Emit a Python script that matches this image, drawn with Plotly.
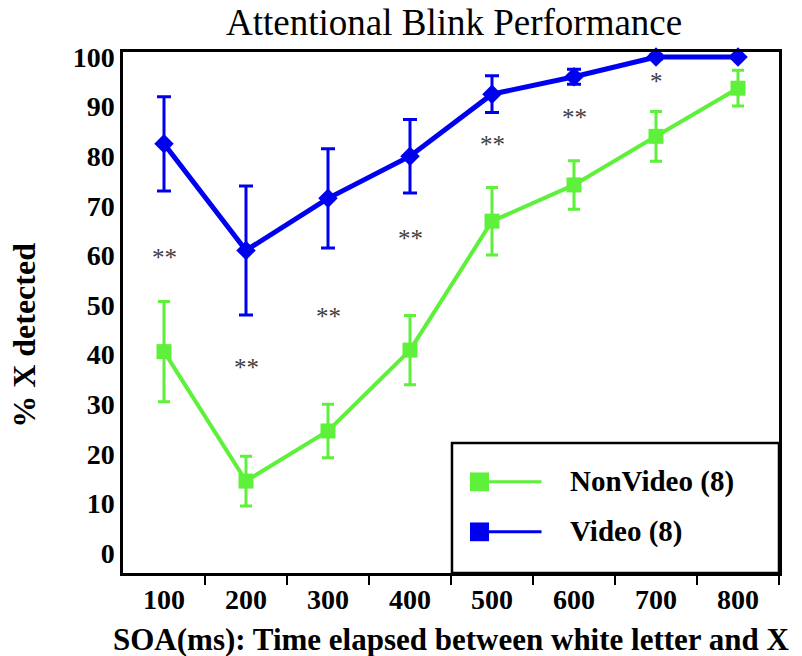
import plotly.graph_objects as go

# ---- data ----
soa = [100, 200, 300, 400, 500, 600, 700, 800]
nonvideo = [40.6, 14.5, 24.6, 40.9, 66.9, 74.2, 84.0, 93.7]
nonvideo_err = [10.1, 5.0, 5.4, 7.0, 6.8, 4.9, 5.0, 3.6]
video = [82.5, 61.0, 71.5, 80.0, 92.5, 96.0, 100.0, 100.0]
video_err = [9.5, 13.0, 10.0, 7.4, 3.7, 1.5, 0.4, 0.0]
sig_x = [100, 200, 300, 400, 500, 600, 700]
sig_y = [59.5, 37.4, 47.6, 63.4, 82.3, 87.8, 95.0]
sig_text = ["**", "**", "**", "**", "**", "**", "*"]
x_ticks = [100, 200, 300, 400, 500, 600, 700, 800]
x_minor = [150, 250, 350, 450, 550, 650, 750, 850]
y_ticks = [0, 10, 20, 30, 40, 50, 60, 70, 80, 90, 100]

GREEN = "#5EF03A"
BLUE = "#0000F0"
FONT = "Liberation Serif"

fig = go.Figure()
fig.add_trace(go.Scatter(
    x=soa, y=nonvideo, mode="lines+markers", name="NonVideo (8)",
    line=dict(color=GREEN, width=4),
    marker=dict(symbol="square", size=15, color=GREEN),
    error_y=dict(type="data", array=nonvideo_err, color=GREEN, thickness=3, width=6),
    cliponaxis=False, showlegend=False,
))
fig.add_trace(go.Scatter(
    x=soa, y=video, mode="lines+markers", name="Video (8)",
    line=dict(color=BLUE, width=5),
    marker=dict(symbol="diamond", size=15, color=BLUE),
    error_y=dict(type="data", array=video_err, color=BLUE, thickness=3, width=7),
    cliponaxis=False, showlegend=False,
))

for sx, sy, st in zip(sig_x, sig_y, sig_text):
    fig.add_annotation(x=sx, y=sy, text=st, showarrow=False,
                       font=dict(family=FONT, size=25, color="#404040"))

# titles
fig.add_annotation(xref="paper", yref="paper", x=0.5046, y=1.056,
                   text="Attentional Blink Performance", showarrow=False,
                   font=dict(family=FONT, size=37, color="black"),
                   xanchor="center", yanchor="middle")
fig.add_annotation(xref="paper", yref="paper", x=0.5, y=-0.127,
                   text="<b>SOA(ms): Time elapsed between white letter and X</b>",
                   showarrow=False, font=dict(family=FONT, size=31, color="black"),
                   xanchor="center", yanchor="middle")
fig.add_annotation(xref="paper", yref="paper", x=-0.151, y=0.457,
                   text="<b>% X detected</b>", textangle=-90,
                   showarrow=False, font=dict(family=FONT, size=32, color="black"),
                   xanchor="center", yanchor="middle")

# legend box (manual)
fig.add_shape(type="rect", xref="paper", yref="paper", x0=0.5015, x1=1.0, y0=0.0, y1=0.2495,
              line=dict(color="black", width=2.5), fillcolor="white", layer="above")
legend_items = [("NonVideo (8)", GREEN, 0.175), ("Video (8)", BLUE, 0.079)]
for label, col, ly in legend_items:
    fig.add_shape(type="line", xref="paper", yref="paper", x0=0.546, x1=0.638, y0=ly, y1=ly,
                  line=dict(color=col, width=3), layer="above")
    fig.add_shape(type="rect", xref="paper", yref="paper",
                  x0=0.529, x1=0.558, y0=ly - 0.018, y1=ly + 0.018,
                  line=dict(width=0), fillcolor=col, layer="above")
    fig.add_annotation(xref="paper", yref="paper", x=0.678, y=ly, text="<b>" + label + "</b>",
                       showarrow=False, xanchor="left", yanchor="middle",
                       font=dict(family=FONT, size=29, color="black"))

fig.update_layout(
    width=802, height=656,
    margin=dict(l=123, r=23, t=52, b=83),
    paper_bgcolor="white", plot_bgcolor="white",
    showlegend=False,
)
fig.update_xaxes(
    range=[50, 850], tickmode="array", tickvals=x_ticks, ticktext=[str(v) for v in x_ticks],
    ticks="", showgrid=False, zeroline=False,
    showline=True, linecolor="black", linewidth=2.5, mirror=True,
    tickfont=dict(family=FONT, size=28, color="black", weight="bold"),
    minor=dict(tickmode="array", tickvals=x_minor, ticks="outside", ticklen=9,
               tickwidth=2, tickcolor="black", showgrid=False),
)
fig.update_yaxes(
    range=[-4.03, 101.0], tickmode="array", tickvals=y_ticks,
    ticks="", showgrid=False, zeroline=False,
    showline=True, linecolor="black", linewidth=2.5, mirror=True,
    tickfont=dict(family=FONT, size=28, color="black", weight="bold"),
)

fig.write_html(
    "out.html",
    config={"displayModeBar": False},
    post_script="document.body.style.margin='0px';document.body.style.overflow='hidden';",
)
